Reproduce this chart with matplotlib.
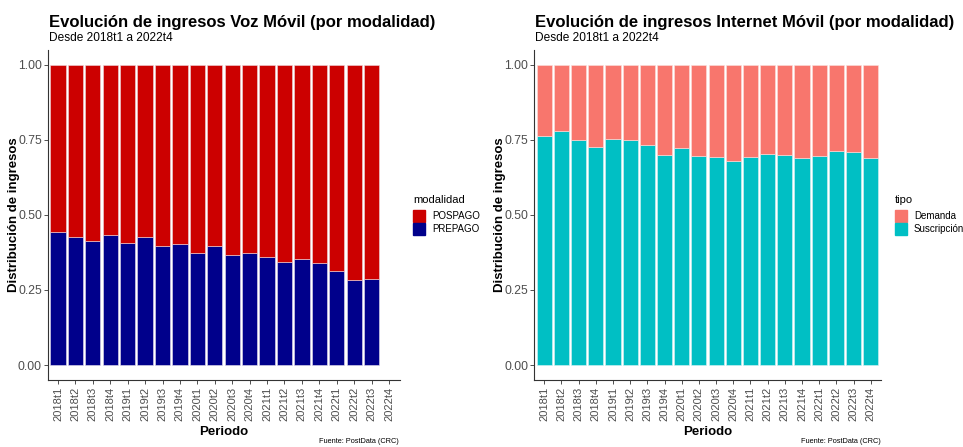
import matplotlib
matplotlib.use("Agg")
import matplotlib.pyplot as plt
import matplotlib.transforms as mtransforms
from matplotlib.patches import Rectangle
import numpy as np

plt.rcParams['font.family'] = ['Liberation Sans', 'DejaVu Sans']

periodos = ["2018t1", "2018t2", "2018t3", "2018t4", "2019t1", "2019t2", "2019t3", "2019t4",
            "2020t1", "2020t2", "2020t3", "2020t4", "2021t1", "2021t2", "2021t3", "2021t4",
            "2022t1", "2022t2", "2022t3", "2022t4"]

# Voz Móvil: share of PREPAGO (2022t4 has no data)
voz_prepago = [0.444, 0.426, 0.414, 0.433, 0.406, 0.426, 0.397, 0.403, 0.373, 0.397,
               0.367, 0.373, 0.360, 0.344, 0.354, 0.339, 0.313, 0.283, 0.286]
voz_pospago = [1 - v for v in voz_prepago]

# Internet Móvil: share of Suscripción
int_suscripcion = [0.763, 0.780, 0.750, 0.727, 0.753, 0.750, 0.732, 0.699, 0.723, 0.697,
                   0.694, 0.680, 0.694, 0.704, 0.700, 0.689, 0.697, 0.713, 0.709, 0.691]
int_demanda = [1 - v for v in int_suscripcion]

C_POS = "#CC0000"
C_PRE = "#00008B"
C_DEM = "#F8766D"
C_SUS = "#00BFC4"

W, H = 963, 447
fig = plt.figure(figsize=(W / 100, H / 100), dpi=100)


def fx(px):
    return px / W


def fy(py):
    return 1 - py / H


def setup_axes(ax, n, left_px):
    ax.set_xlim(-0.6, n - 1 + 0.6)
    ax.set_ylim(-0.05, 1.05)
    for s in ["top", "right"]:
        ax.spines[s].set_visible(False)
    for s in ["left", "bottom"]:
        ax.spines[s].set_color("#333333")
        ax.spines[s].set_linewidth(0.8)
    ax.set_yticks([0, 0.25, 0.5, 0.75, 1.0])
    ax.set_yticklabels(["0.00", "0.25", "0.50", "0.75", "1.00"], fontsize=8.7, color="#4D4D4D")
    ax.set_xticks(range(n))
    ax.set_xticklabels(periodos, rotation=90, fontsize=8, color="#4D4D4D", va="top", ha="center")
    offset = mtransforms.ScaledTranslation(7 / 100, 0, fig.dpi_scale_trans)
    for lab in ax.get_xticklabels():
        lab.set_transform(lab.get_transform() + offset)
    ax.tick_params(axis="y", length=3, width=0.6, color="#333333", pad=1)
    ax.tick_params(axis="x", length=3, width=0.6, color="#333333", pad=2)
    ax.set_xlabel("Periodo", fontsize=9.5, fontweight="bold")
    ax.xaxis.set_label_coords(0.5, -(435 - 380) / 330, transform=ax.transAxes)
    ax.xaxis.label.set_va("baseline")
    ax.set_ylabel("Distribución de ingresos", fontsize=9.5, fontweight="bold")
    ax.yaxis.set_label_coords(-(left_px - 14) / ((ax.get_position().width) * W), 0.5)
    ax.yaxis.label.set_va("center")


# Left panel
ax1 = fig.add_axes([fx(47.5), fy(380), fx(399.5 - 47.5), (380 - 50) / H])
x1 = np.arange(len(voz_prepago))
ax1.bar(x1, voz_prepago, width=0.88, color=C_PRE, edgecolor="#E6E0EE", linewidth=0.4)
ax1.bar(x1, voz_pospago, bottom=voz_prepago, width=0.88, color=C_POS, edgecolor="#EED8DD", linewidth=0.4)
setup_axes(ax1, len(periodos), 47.5)

# Right panel
ax2 = fig.add_axes([fx(534), fy(380), fx(881 - 534), (380 - 50) / H])
x2 = np.arange(len(int_suscripcion))
ax2.bar(x2, int_suscripcion, width=0.88, color=C_SUS, edgecolor="#D8F2F3", linewidth=0.4)
ax2.bar(x2, int_demanda, bottom=int_suscripcion, width=0.88, color=C_DEM, edgecolor="#FBE0DE", linewidth=0.4)
setup_axes(ax2, len(periodos), 534 - 486)

# Titles
fig.text(fx(49), fy(27), "Evolución de ingresos Voz Móvil (por modalidad)", fontsize=12,
         fontweight="bold", ha="left", va="baseline")
fig.text(fx(49), fy(41), "Desde 2018t1 a 2022t4", fontsize=8.6, ha="left", va="baseline")
fig.text(fx(535), fy(27), "Evolución de ingresos Internet Móvil (por modalidad)", fontsize=12,
         fontweight="bold", ha="left", va="baseline")
fig.text(fx(535), fy(41), "Desde 2018t1 a 2022t4", fontsize=8.6, ha="left", va="baseline")

# Captions
fig.text(fx(399), fy(443), "Fuente: PostData (CRC)", fontsize=5.3, ha="right", va="baseline")
fig.text(fx(881), fy(443), "Fuente: PostData (CRC)", fontsize=5.3, ha="right", va="baseline")


def legend(x0, title, labels, colors):
    fig.text(fx(x0), fy(203), title, fontsize=8, ha="left", va="baseline")
    for i, (lab, col) in enumerate(zip(labels, colors)):
        top = 210 + i * 13
        fig.patches.append(Rectangle((fx(x0), fy(top + 12)), fx(12), 12 / H, color=col,
                                     transform=fig.transFigure, figure=fig))
        fig.text(fx(x0 + 19), fy(top + 6), lab, fontsize=7, ha="left", va="center")


legend(413, "modalidad", ["POSPAGO", "PREPAGO"], [C_POS, C_PRE])
legend(895, "tipo", ["Demanda", "Suscripción"], [C_DEM, C_SUS])

fig.savefig("out.png", dpi=100)
